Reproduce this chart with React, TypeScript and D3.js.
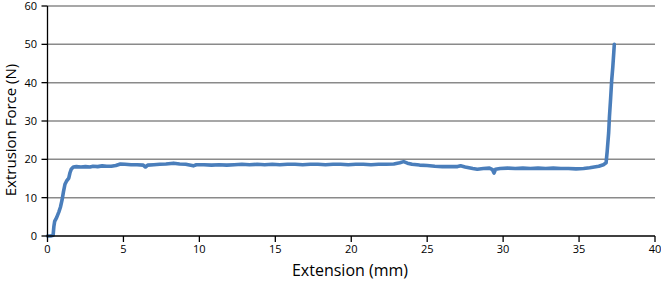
import React from "react";
import * as d3 from "d3";

const extension: number[] = [
  0, 0.2, 0.37, 0.42, 0.47, 0.6, 0.75, 0.85, 0.96, 1.05, 1.15, 1.25, 1.4, 1.48, 1.56, 1.7, 1.9, 2.2, 2.5, 2.8,
  3.0, 3.3, 3.6, 3.9, 4.2, 4.5, 4.8, 5.1, 5.5, 5.9, 6.3, 6.45, 6.6, 7.0, 7.4, 7.8, 8.3, 8.7, 9.1, 9.6,
  9.8, 10.3, 10.8, 11.3, 11.8, 12.3, 12.8, 13.3, 13.8, 14.3, 14.8, 15.3, 15.8, 16.3, 16.8, 17.3, 17.8, 18.3, 18.8, 19.3,
  19.8, 20.3, 20.8, 21.3, 21.8, 22.3, 22.8, 23.2, 23.45, 23.7, 24.0, 24.5, 25.0, 25.5, 26.0, 26.5, 27.0, 27.2, 27.5, 28.0,
  28.3, 28.7, 29.1, 29.3, 29.4, 29.5, 29.8, 30.3, 30.8, 31.3, 31.8, 32.3, 32.8, 33.3, 33.8, 34.3, 34.8, 35.3, 35.7, 36.0,
  36.3, 36.6, 36.78, 36.85, 36.95, 37.0, 37.08, 37.15, 37.22, 37.28, 37.32,
];
const force: number[] = [
  0, 0, 0.2, 2.5, 3.8, 4.8, 6.3, 7.5, 9.4, 11.5, 13.5, 14.3, 15.1, 16.5, 17.4, 18.0, 18.1, 18.0, 18.1, 18.0,
  18.2, 18.1, 18.3, 18.2, 18.2, 18.4, 18.8, 18.7, 18.6, 18.6, 18.5, 18.0, 18.5, 18.6, 18.7, 18.8, 19.0, 18.8, 18.7, 18.3,
  18.6, 18.6, 18.5, 18.6, 18.5, 18.6, 18.7, 18.6, 18.7, 18.6, 18.7, 18.6, 18.7, 18.7, 18.6, 18.7, 18.7, 18.6, 18.7, 18.7,
  18.6, 18.7, 18.7, 18.6, 18.7, 18.7, 18.8, 19.1, 19.4, 19.0, 18.7, 18.5, 18.4, 18.2, 18.1, 18.1, 18.1, 18.3, 18.0, 17.6,
  17.4, 17.6, 17.7, 17.3, 16.4, 17.4, 17.6, 17.7, 17.6, 17.7, 17.6, 17.7, 17.6, 17.7, 17.6, 17.6, 17.5, 17.6, 17.8, 18.0,
  18.2, 18.6, 19.1, 22, 27, 31.1, 36, 40.7, 44, 47.5, 50.0,
];

const xTicks: number[] = [0, 5, 10, 15, 20, 25, 30, 35, 40];
const yTicks: number[] = [0, 10, 20, 30, 40, 50, 60];

export default function App() {
  const W = 661, H = 282;
  const x = d3.scaleLinear().domain([0, 40]).range([47.5, 655]);
  const y = d3.scaleLinear().domain([0, 60]).range([236, 6]);
  const pts = extension.map((e, i) => [e, force[i]] as [number, number]);
  const line = d3.line<[number, number]>().x(d => x(d[0])).y(d => y(d[1]));
  const font = "'Open Sans', sans-serif";
  return (
    <svg width={W} height={H} style={{ position: "absolute", left: 0, top: 0, background: "#fff" }}>
      {yTicks.filter(t => t > 0).map(t => (
        <line key={"g" + t} x1={x(0)} x2={x(40)} y1={y(t)} y2={y(t)} stroke="#8a8a8a" strokeWidth={1.5} />
      ))}
      <path d={line(pts) || ""} fill="none" stroke="#4a7ebb" strokeWidth={3.6} strokeLinejoin="round" strokeLinecap="round" />
      <line x1={x(0)} x2={x(0)} y1={y(0)} y2={y(60)} stroke="#000" strokeWidth={1.3} />
      <line x1={x(0)} x2={x(40)} y1={y(0)} y2={y(0)} stroke="#000" strokeWidth={1.3} />
      {yTicks.map(t => (
        <g key={"y" + t}>
          <line x1={x(0) - 6} x2={x(0)} y1={y(t)} y2={y(t)} stroke="#000" strokeWidth={1.3} />
          <text x={37} y={y(t) + 4} textAnchor="end" fontFamily={font} fontSize={11} fill="#000">{t}</text>
        </g>
      ))}
      {xTicks.map(t => (
        <g key={"x" + t}>
          <line x1={x(t)} x2={x(t)} y1={y(0)} y2={y(0) + 6} stroke="#000" strokeWidth={1.3} />
          <text x={x(t)} y={253} textAnchor="middle" fontFamily={font} fontSize={11} fill="#000">{t}</text>
        </g>
      ))}
      <text x={350} y={276} textAnchor="middle" fontFamily={font} fontSize={16} fill="#000">Extension (mm)</text>
      <text transform="translate(16,130) rotate(-90)" textAnchor="middle" fontFamily={font} fontSize={15} fill="#000">Extrusion Force (N)</text>
    </svg>
  );
}
